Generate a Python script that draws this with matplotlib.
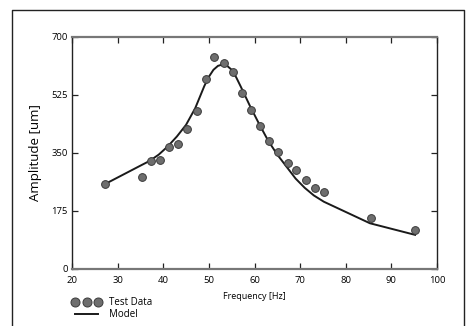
import numpy as np
import matplotlib
matplotlib.use('Agg')
import matplotlib.pyplot as plt
from matplotlib.lines import Line2D

plt.rcParams['font.family'] = ['Open Sans', 'DejaVu Sans']

# test data
freq_test = [27.2, 35.3, 37.4, 39.3, 41.2, 43.2, 45.3, 47.3, 49.3, 51.2, 53.3, 55.2,
             57.3, 59.2, 61.3, 63.1, 65.2, 67.3, 69.2, 71.2, 73.3, 75.2, 85.5, 95.2]
amp_test = [256, 278, 327, 329, 368, 378, 423, 478, 573, 640, 621, 595,
            530, 480, 431, 386, 354, 321, 300, 269, 245, 232, 155, 119]

# model curve
freq_model = [27.2, 35.3, 37, 39, 41, 43, 45, 47, 49, 50, 51, 52, 53, 54, 55, 56, 57, 59,
              61, 63, 65, 67, 69, 71, 73, 75.2, 85.3, 95.2]
amp_model = [256, 314, 326, 345, 370, 400, 435, 485, 552, 580, 601, 613, 617, 613, 601,
             578, 550, 492, 438, 387, 345, 309, 273, 245, 222, 203, 138, 103]

xticks = [20, 30, 40, 50, 60, 70, 80, 90, 100]
yticks = [0, 175, 350, 525, 700]

fig = plt.figure(figsize=(4.66, 3.26), dpi=100)
ax = fig.add_axes([72/466, 1-269/326, (437-72)/466, (269-37)/326])

ax.plot(freq_model, amp_model, color='#1a1a1a', lw=1.4, zorder=2)
ax.plot(freq_test, amp_test, ls='none', marker='o', ms=5.6,
        mfc='#6e6e6e', mec='#3a3a3a', mew=0.7, zorder=3)

ax.set_xlim(20, 100)
ax.set_ylim(0, 700)
ax.set_xticks(xticks)
ax.set_yticks(yticks)
ax.tick_params(direction='in', length=4.5, width=0.9, labelsize=6.8,
               top=True, right=True, color='#222222')
ax.tick_params(axis='x', pad=5)
ax.tick_params(axis='y', pad=3)
ax.set_xlabel('Frequency [Hz]', fontsize=6.5, labelpad=5)
ax.set_ylabel('Amplitude [um]', fontsize=9.5, labelpad=7)

for s in ['top', 'bottom']:
    ax.spines[s].set_color('#777777')
    ax.spines[s].set_linewidth(1.6)
for s in ['left', 'right']:
    ax.spines[s].set_color('#222222')
    ax.spines[s].set_linewidth(1.0)

# frame around figure
fx0, fx1, fy1 = 12/466, 464/466, 1-10/326
fig.add_artist(Line2D([fx0, fx0, fx1, fx1], [0, fy1, fy1, 0],
                      transform=fig.transFigure, color='#222222', lw=1.0))

h_data = Line2D([], [], ls='none', marker='o', ms=6.5,
                mfc='#6e6e6e', mec='#3a3a3a', mew=0.7)
h_model = Line2D([], [], color='#1a1a1a', lw=1.4)
fig.legend([h_data, h_model], ['Test Data', 'Model'], numpoints=3,
           loc='upper left', bbox_to_anchor=(72/466, 1-297/326),
           frameon=False, fontsize=7, handlelength=3.0, handletextpad=0.8,
           labelspacing=0.15, borderpad=0, borderaxespad=0)

fig.savefig('out.png', dpi=100)
